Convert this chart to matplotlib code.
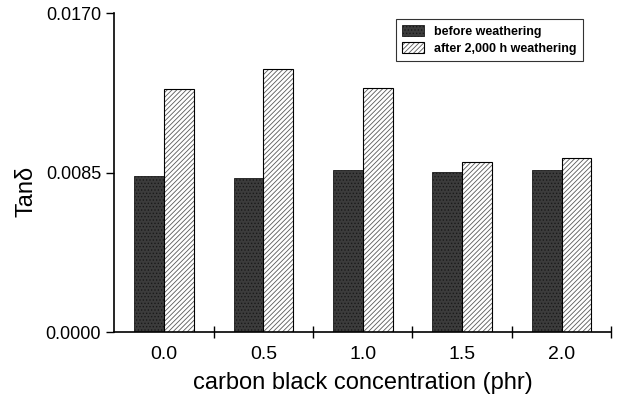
import matplotlib.pyplot as plt
import numpy as np

plt.rcParams['font.family'] = ['Liberation Sans', 'DejaVu Sans']
plt.rcParams['hatch.linewidth'] = 0.6

conc = ['0.0', '0.5', '1.0', '1.5', '2.0']
before = [0.00830, 0.00822, 0.00866, 0.00852, 0.00866]
after = [0.01298, 0.01401, 0.01300, 0.00905, 0.00926]

fig = plt.figure(figsize=(6.18, 3.97), dpi=100)
ax = fig.add_axes([0.185, 0.163, 0.804, 0.804])

x = np.arange(len(conc))
w = 0.30
plt.rcParams['hatch.color'] = '#a0a0a0'
ax.bar(x - w / 2, before, w, color='#3c3c3c', edgecolor='#1a1a1a', lw=0.6,
       hatch='.....', label='before weathering')
b2 = ax.bar(x + w / 2, after, w, color='white', edgecolor='black', lw=0.8,
            label='after 2,000 h weathering')
for p in b2:
    p.set_hatch('///////')
    p._hatch_color = (0.35, 0.35, 0.35, 1)

ax.set_xlim(-0.5, 4.5)
ax.set_ylim(0, 0.0170)
ax.set_yticks([0.0, 0.0085, 0.0170])
ax.set_yticklabels(['0.0000', '0.0085', '0.0170'])
ax.set_xticks(x)
ax.set_xticklabels(conc)
ax.set_xticks(x + 0.5, minor=True)
ax.tick_params(axis='x', which='major', length=0, labelsize=14, pad=10)
ax.tick_params(axis='x', which='minor', direction='inout', length=8, width=1)
ax.tick_params(axis='y', direction='out', length=6, width=1, labelsize=13)
ax.spines['top'].set_visible(False)
ax.spines['right'].set_visible(False)
ax.spines['left'].set_linewidth(1.2)
ax.spines['bottom'].set_linewidth(1.2)

ax.set_xlabel('carbon black concentration (phr)', fontsize=17, labelpad=6)
ax.set_ylabel('Tanδ', fontsize=17)
ax.yaxis.set_label_coords(-0.155, 0.44)

leg = ax.legend(loc='upper right', bbox_to_anchor=(0.955, 1.0), fontsize=9,
                frameon=True, fancybox=False, edgecolor='black',
                handlelength=1.8, handleheight=1.0, borderpad=0.45,
                labelspacing=0.35)
leg.get_frame().set_linewidth(0.8)
for t in leg.get_texts():
    t.set_fontweight('bold')

fig.savefig('out.png', dpi=100)
